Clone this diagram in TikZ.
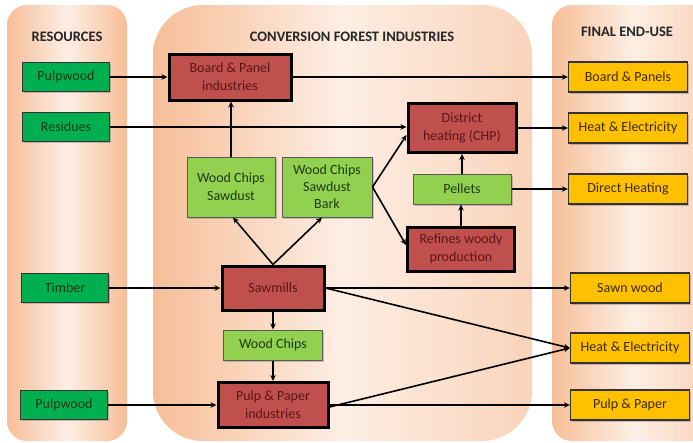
\documentclass[tikz,border=0pt]{standalone}
\usepackage{fontspec}
\setmainfont{Carlito}
\usetikzlibrary{arrows.meta,shadows}
\definecolor{resgreen}{HTML}{00B050}
\definecolor{indred}{HTML}{C0504D}
\definecolor{lgreen}{HTML}{92D050}
\definecolor{fyellow}{HTML}{FFC000}
\definecolor{paneledge}{HTML}{F6BE98}
\definecolor{paneledgeb}{HTML}{F9D3BA}
\definecolor{panelmid}{HTML}{FDEEE4}
\definecolor{redtext}{HTML}{5A1616}
\definecolor{greentext}{HTML}{1E3A12}
\definecolor{yellowtext}{HTML}{3D2A00}
\tikzset{
  panel/.style={left color=paneledge, right color=paneledgeb, middle color=panelmid, draw=none},
  panelsym/.style={left color=paneledge, right color=paneledge, middle color=panelmid, draw=none},
  ttl/.style={font=\fontsize{14.5}{16}\selectfont\bfseries, text=black!85},
  shd/.style={drop shadow={shadow xshift=1.5pt, shadow yshift=-1.5pt, opacity=0.35, fill=black!60}},
  base/.style={align=center, inner sep=1pt, font=\fontsize{14}{18}\selectfont, shd},
  resbox/.style={base, draw=black!80, line width=1.3pt, fill=resgreen, text=greentext, minimum width=87pt, minimum height=29pt},
  indbox/.style={base, draw=black, line width=3pt, fill=indred, text=redtext},
  midbox/.style={base, draw=black!65, line width=1pt, fill=lgreen, text=greentext},
  finbox/.style={base, draw=black!80, line width=1.3pt, fill=fyellow, text=yellowtext, minimum width=119pt, minimum height=30pt},
  arr/.style={-{Stealth[length=6pt,width=5.5pt]}, line width=1.6pt, black}
}
\begin{document}
\begin{tikzpicture}[x=1pt,y=-1pt]
\useasboundingbox (0,0) rectangle (693,442);
\fill[white] (0,0) rectangle (693,442);
% panels
\path[panelsym, rounded corners=20pt] (7,5) rectangle (127,441);
\path[panel, rounded corners=50pt] (153,5) rectangle (532,441);
\path[panel, rounded corners=20pt] (552,5) rectangle (712,441);
% titles
\node[ttl] (t1) at (67,37) {RESOURCES};
\node[ttl] (t2) at (352,37) {CONVERSION FOREST INDUSTRIES};
\node[ttl] (t3) at (627,32) {FINAL END-USE};
% resources
\node[resbox] (pw1) at (66,77) {Pulpwood};
\node[resbox] (res) at (66,127) {Residues};
\node[resbox] (tim) at (65,288) {Timber};
\node[resbox] (pw2) at (64,405) {Pulpwood};
% conversion
\node[indbox, minimum width=122pt, minimum height=46pt] (bp) at (230,77) {Board \& Panel\\industries};
\node[midbox, minimum width=88pt, minimum height=60pt] (wcs) at (231,187) {Wood Chips\\Sawdust};
\node[midbox, minimum width=90pt, minimum height=60pt, font=\fontsize{14}{17}\selectfont] (wcsb) at (327,187) {Wood Chips\\Sawdust\\Bark};
\node[indbox, minimum width=108pt, minimum height=49pt] (dh) at (462,128) {District\\heating (CHP)};
\node[midbox, minimum width=98pt, minimum height=30pt] (pel) at (462,189) {Pellets};
\node[indbox, minimum width=107pt, minimum height=44pt] (ref) at (461,249) {Refines woody\\production};
\node[indbox, minimum width=102pt, minimum height=44pt] (saw) at (273,288) {Sawmills};
\node[midbox, minimum width=99pt, minimum height=30pt] (wc) at (273,345) {Wood Chips};
\node[indbox, minimum width=110pt, minimum height=45pt] (pp) at (273,405) {Pulp \& Paper\\industries};
% final
\node[finbox] (fbp) at (628,77) {Board \& Panels};
\node[finbox] (fhe1) at (628,128) {Heat \& Electricity};
\node[finbox] (fdh) at (628,189) {Direct Heating};
\node[finbox] (fsw) at (630,288) {Sawn wood};
\node[finbox] (fhe2) at (630,348) {Heat \& Electricity};
\node[finbox] (fpp) at (630,405) {Pulp \& Paper};
% connectors
\draw[arr] (pw1) -- (bp);
\draw[arr] (res.east) -- (res.east -| dh.west);
\draw[arr] (bp) -- (bp -| fbp.west);
\draw[arr] (dh) -- (dh -| fhe1.west);
\draw[arr] (pel) -- (fdh);
\draw[arr] (pel) -- (dh);
\draw[arr] (ref) -- (ref |- pel.south);
\draw[arr] (wcsb.east) -- ([yshift=-7pt]dh.west);
\draw[arr] (wcsb.east) -- ([yshift=4pt]ref.west);
\draw[arr] (wcs.north) -- (wcs.north |- bp.south);
\draw[arr] (saw.north) -- ([xshift=2pt]wcs.south);
\draw[arr] (saw.north) -- ([xshift=-5pt]wcsb.south);
\draw[arr] (tim) -- (tim -| saw.west);
\draw[arr] (saw) -- (wc);
\draw[arr] (wc) -- (pp);
\draw[arr] (pw2) -- (pp);
\draw[arr] (saw) -- (saw -| fsw.west);
\draw[arr] (saw.east) -- (fhe2.west);
\draw[arr] ([yshift=-2pt]pp.east) -- (fhe2.west);
\draw[arr] (pp) -- (pp -| fpp.west);
\end{tikzpicture}
\end{document}
